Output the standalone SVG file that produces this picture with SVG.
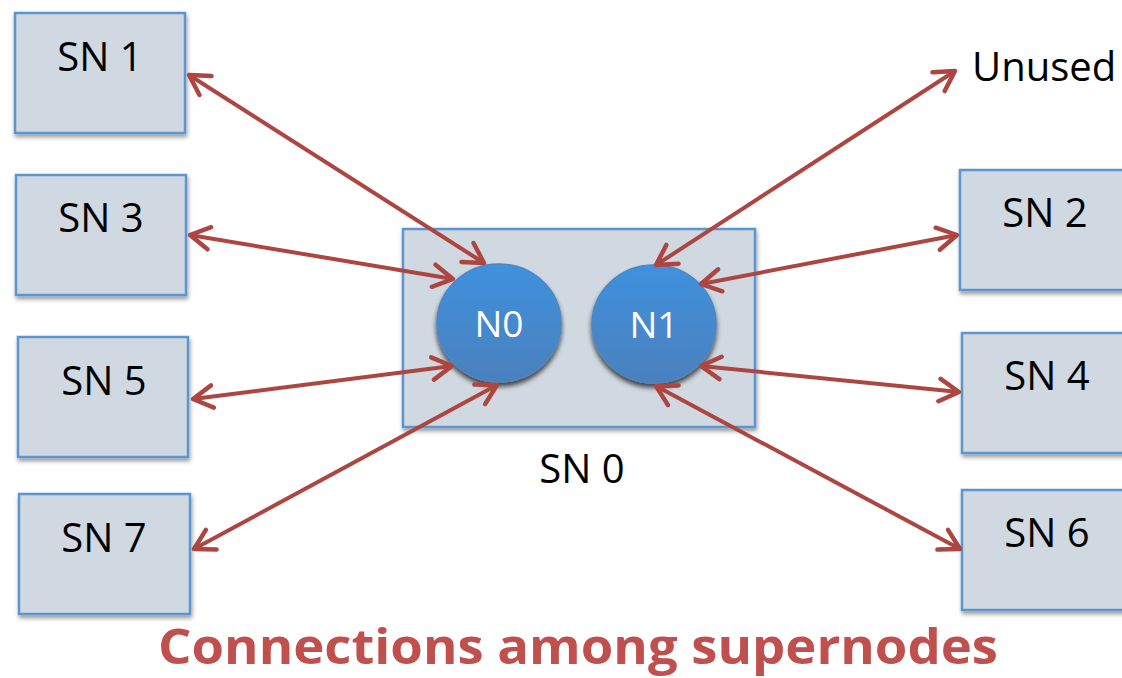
<svg xmlns="http://www.w3.org/2000/svg" width="1122" height="678" viewBox="0 0 1122 678">
<defs>
<style>
.box{fill:#d0d9e1;stroke:#5b95cf;stroke-width:2.5;filter:url(#sh)}
.lbl{font-family:"Open Sans","Liberation Sans",sans-serif;font-size:40px;fill:#000;text-anchor:middle}
.nl{font-family:"Open Sans","Liberation Sans",sans-serif;font-size:37px;fill:#fff;text-anchor:middle}
.circ{fill:url(#g);stroke:#4d86c4;stroke-width:1.5;filter:url(#sh2)}
.con{stroke:#ad4640;stroke-width:4;fill:none;marker-start:url(#ah);marker-end:url(#ah)}
</style>
<linearGradient id="g" x1="0" y1="0" x2="0" y2="1">
<stop offset="0" stop-color="#3f91de"/>
<stop offset="1" stop-color="#4a80bd"/>
</linearGradient>
<filter id="sh" x="-10%" y="-10%" width="130%" height="130%">
<feGaussianBlur in="SourceAlpha" stdDeviation="2"/>
<feOffset dx="1" dy="3"/>
<feComponentTransfer><feFuncA type="linear" slope="0.4"/></feComponentTransfer>
<feMerge><feMergeNode/><feMergeNode in="SourceGraphic"/></feMerge>
</filter>
<filter id="sh2" x="-20%" y="-20%" width="140%" height="150%">
<feGaussianBlur in="SourceAlpha" stdDeviation="2.5"/>
<feOffset dx="0" dy="4"/>
<feComponentTransfer><feFuncA type="linear" slope="0.7"/></feComponentTransfer>
<feMerge><feMergeNode/><feMergeNode in="SourceGraphic"/></feMerge>
</filter>
<marker id="ah" viewBox="0 0 20 20" refX="17" refY="10" markerWidth="7" markerHeight="7" markerUnits="strokeWidth" orient="auto-start-reverse">
<path d="M3,2 L17,10 L3,18" fill="none" stroke="#ad4640" stroke-width="3.2" stroke-linecap="round" stroke-linejoin="round"/>
</marker>
</defs>
<rect width="1122" height="678" fill="#fff"/>

<g id="sn1"><rect class="box" x="15" y="13" width="170" height="120"/><text class="lbl" x="100" y="71">SN 1</text></g>
<g id="sn3"><rect class="box" x="16" y="175" width="170" height="120"/><text class="lbl" x="101" y="232">SN 3</text></g>
<g id="sn5"><rect class="box" x="18" y="337" width="170" height="120"/><text class="lbl" x="104" y="395">SN 5</text></g>
<g id="sn7"><rect class="box" x="19" y="494" width="171" height="120"/><text class="lbl" x="104" y="552">SN 7</text></g>
<g id="sn2"><rect class="box" x="960" y="170" width="175" height="120"/><text class="lbl" x="1045" y="227">SN 2</text></g>
<g id="sn4"><rect class="box" x="962" y="333" width="175" height="120"/><text class="lbl" x="1047" y="390">SN 4</text></g>
<g id="sn6"><rect class="box" x="962" y="490" width="175" height="120"/><text class="lbl" x="1047" y="547">SN 6</text></g>

<g id="sn0">
<rect class="box" x="403" y="229" width="352" height="198"/>
<text class="lbl" x="582" y="483">SN 0</text>
</g>
<g id="n0"><ellipse class="circ" cx="499" cy="323" rx="62" ry="59"/><text class="nl" x="499" y="337">N0</text></g>
<g id="n1"><ellipse class="circ" cx="654" cy="324" rx="62" ry="59"/><text class="nl" x="654" y="338">N1</text></g>

<g id="unused"><text class="lbl" x="972" y="81" style="text-anchor:start">Unused</text></g>

<g id="connectors">
<line class="con" x1="189" y1="75" x2="484" y2="263"/>
<line class="con" x1="190" y1="235" x2="453" y2="279"/>
<line class="con" x1="193" y1="399" x2="452" y2="366"/>
<line class="con" x1="194" y1="549" x2="497" y2="385"/>
<line class="con" x1="955" y1="71" x2="656" y2="265"/>
<line class="con" x1="957" y1="235" x2="701" y2="284"/>
<line class="con" x1="959" y1="392" x2="701" y2="366"/>
<line class="con" x1="960" y1="549" x2="656" y2="386"/>
</g>

<text x="578" y="664" font-family="'Open Sans','Liberation Sans',sans-serif" font-weight="bold" font-size="49" fill="#c0504d" text-anchor="middle" textLength="840" lengthAdjust="spacingAndGlyphs">Connections among supernodes</text>
</svg>
